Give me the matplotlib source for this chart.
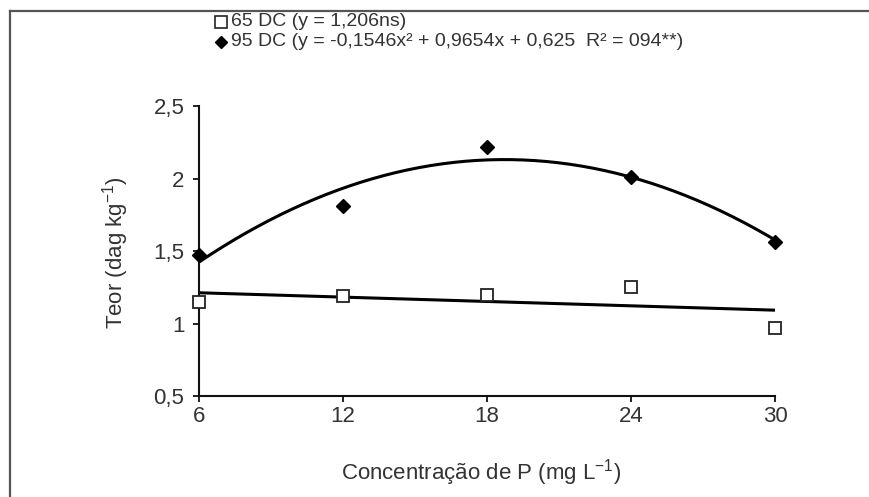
import matplotlib
matplotlib.use("Agg")
import matplotlib.pyplot as plt
import numpy as np
from matplotlib.lines import Line2D

plt.rcParams["font.family"] = ["Liberation Sans", "DejaVu Sans"]
plt.rcParams["mathtext.fontset"] = "custom"
plt.rcParams["mathtext.rm"] = "Liberation Sans"
plt.rcParams["mathtext.default"] = "regular"

concentracao = [6, 12, 18, 24, 30]
teor_65 = [1.15, 1.19, 1.20, 1.25, 0.97]
teor_95 = [1.47, 1.81, 2.22, 2.01, 1.56]
label_65 = "65 DC (y = 1,206ns)"
label_95 = "95 DC (y = -0,1546x² + 0,9654x + 0,625  R² = 094**)"
yticks = [0.5, 1, 1.5, 2, 2.5]
ytick_labels = ["0,5", "1", "1,5", "2", "2,5"]

text_color = "#333333"
W, H = 869, 497

fig = plt.figure(figsize=(W / 100, H / 100), dpi=100)
ax = fig.add_axes([0.229, 0.2032, 0.663, 0.5835])

x = np.array(concentracao, dtype=float)
xs = np.linspace(x.min(), x.max(), 200)

# Excel style trendlines: linear for 65 DC, quadratic for 95 DC
lin = np.polyfit(x, teor_65, 1)
quad = np.polyfit(x, teor_95, 2)
ax.plot(xs, np.polyval(lin, xs), color="black", lw=2.2, zorder=2)
ax.plot(xs, np.polyval(quad, xs), color="black", lw=2.2, zorder=2)

ax.plot(x, teor_65, ls="none", marker="s", ms=9, mfc="white",
        mec="#222222", mew=1.3, zorder=3, clip_on=False)
ax.plot(x, teor_95, ls="none", marker="D", ms=7, color="black",
        zorder=3, clip_on=False)

ax.set_xlim(6, 30)
ax.set_ylim(0.5, 2.5)
ax.set_xticks(concentracao)
ax.set_xticklabels([str(c) for c in concentracao])
ax.set_yticks(yticks)
ax.set_yticklabels(ytick_labels)

for side in ["top", "right"]:
    ax.spines[side].set_visible(False)
for side in ["left", "bottom"]:
    ax.spines[side].set_linewidth(1.5)
    ax.spines[side].set_color("#111111")
ax.tick_params(axis="both", direction="out", length=4.5, width=1.3,
               labelsize=16, colors="#111111", labelcolor=text_color)
ax.tick_params(axis="y", pad=6)
ax.tick_params(axis="x", pad=3)

ax.set_xlabel("Concentração de P (mg L$^{-1}$)", fontsize=16,
              color=text_color)
ax.xaxis.set_label_coords(0.49, -0.21)
ax.set_ylabel("Teor (dag kg$^{-1}$)", fontsize=16, color=text_color)
ax.yaxis.set_label_coords(-0.118, 0.493)

# legend, two tightly packed rows above the plot
rows = [
    (label_65, dict(marker="s", ms=8, mfc="white", mec="#222222", mew=1.2), 22),
    (label_95, dict(marker="D", ms=6, color="black"), 42),
]
for text, style, ypix in rows:
    yf = 1 - ypix / H
    fig.add_artist(Line2D([221 / W], [yf], ls="none",
                          transform=fig.transFigure, **style))
    fig.text(231 / W, yf, text, fontsize=14, color=text_color,
             ha="left", va="center")

# partial frame around the figure (top and left edges)
fig.add_artist(Line2D([9.5 / W, 1], [1 - 10.5 / H] * 2,
                      transform=fig.transFigure, color="#555555", lw=1.6))
fig.add_artist(Line2D([9.5 / W] * 2, [0, 1 - 10.5 / H],
                      transform=fig.transFigure, color="#555555", lw=1.6))

fig.savefig("out.png", dpi=100)
